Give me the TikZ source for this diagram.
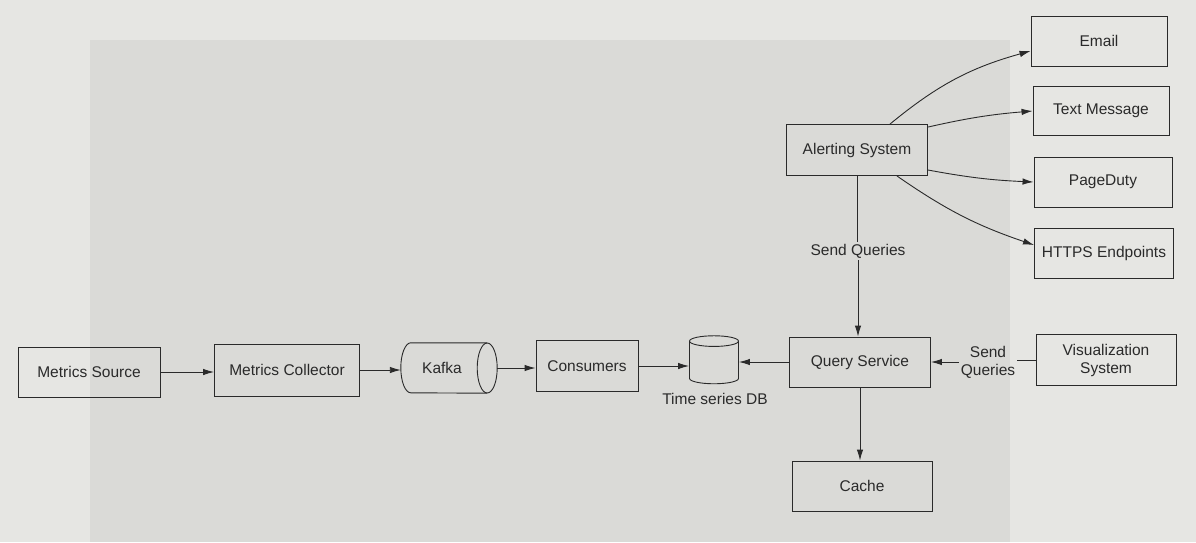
\documentclass[tikz,border=0pt]{standalone}
\usepackage{fontspec}
\setmainfont{Liberation Sans}
\usetikzlibrary{shapes.geometric,arrows.meta}
\definecolor{outerbg}{HTML}{E6E6E3}
\definecolor{innerbg}{HTML}{DADAD7}
\definecolor{ink}{HTML}{2A2A2A}
\tikzset{
  box/.style={draw=ink, line width=0.9pt, rectangle, minimum height=50pt, align=center, font=\fontsize{15.5}{18}\selectfont, text=ink},
  conn/.style={draw=ink, line width=0.9pt},
  arr/.style={conn, -{Latex[length=11pt,width=6.5pt]}},
  lbl/.style={font=\fontsize{15.5}{18}\selectfont, text=ink, align=center, inner sep=2pt},
  cyl/.style={draw=ink, line width=0.9pt, shape=cylinder, font=\fontsize{15.5}{18}\selectfont, text=ink}
}
\begin{document}
\begin{tikzpicture}[x=1pt,y=-1pt]
\fill[outerbg] (0,0) rectangle (1196,542);
\fill[innerbg] (90,40) rectangle (1010,542);
\useasboundingbox (0,0) rectangle (1196,542);

\node[box, minimum width=142pt] (src) at (89,372) {Metrics Source};
\node[box, minimum width=145pt, minimum height=52pt] (col) at (287,370) {Metrics Collector};
\node[rectangle, minimum width=96pt, minimum height=50pt, inner sep=0pt, font=\fontsize{15.5}{18}\selectfont, text=ink] (kafka) at (449,368) {Kafka\hspace*{14pt}};
\draw[conn] ([xshift=-10pt]kafka.north east) -- ([xshift=10pt]kafka.north west)
  arc[start angle=90, end angle=270, x radius=10pt, y radius=25pt]
  -- ([xshift=-10pt]kafka.south east);
\draw[conn] ([xshift=-10pt]kafka.east) ellipse[x radius=10pt, y radius=25pt];
\node[box, minimum width=102pt, minimum height=51pt] (cons) at (587,366) {Consumers};
\node[cyl, shape border rotate=90, minimum width=49pt, minimum height=48pt, aspect=1.6] (db) at (714,364) {};
\node[lbl] (dblbl) at (715,399) {Time series DB};
\node[box, minimum width=141pt] (qs) at (860,362) {Query Service};
\node[box, minimum width=140pt, minimum height=51pt] (vis) at (1106,360) {Visualization\\System};
\node[lbl] (sq2) at (988,362) {Send\\Queries};
\node[box, minimum width=140pt] (cache) at (862,486) {Cache};
\node[box, minimum width=141pt, minimum height=51pt] (alert) at (857,150) {Alerting System};
\node[lbl] (sq1) at (858,251) {Send Queries};
\node[box, minimum width=136pt] (email) at (1099,41) {Email};
\node[box, minimum width=136pt, minimum height=49pt] (text) at (1101,111) {Text Message};
\node[box, minimum width=138pt] (page) at (1103,182) {PageDuty};
\node[box, minimum width=139pt] (https) at (1104,253) {HTTPS Endpoints};

\draw[arr] (src) -- (col.west |- src);
\draw[arr] (col.east) -- (kafka.west |- col.east);
\draw[arr] (kafka.east) -- (cons.west |- kafka.east);
\draw[arr] (cons.east) -- (db.west |- cons.east);
\draw[arr] (qs.west) -- (db.east |- qs.west);
\draw[conn] (vis.west) -- (sq2.east |- vis.west);
\draw[arr] (sq2.west) -- (qs.east);
\draw[arr] (qs.south) -- (cache.north -| qs.south);
\draw[conn] (alert.south) -- (sq1.north -| alert.south);
\draw[arr] (sq1.south) -- (qs.north -| sq1.south);

\coordinate (a1) at ([xshift=33pt]alert.north);
\draw[arr] (a1) to[bend left=12] ([yshift=-10pt]email.west);
\draw[arr] ([yshift=-3pt]alert.north east) to[bend left=4] (text.west);
\draw[arr] ([yshift=-20pt]alert.east) to[bend right=4] (page.west);
\draw[arr] ([xshift=-31pt]alert.south east) to[bend right=8] ([yshift=8pt]https.west);
\end{tikzpicture}
\end{document}
